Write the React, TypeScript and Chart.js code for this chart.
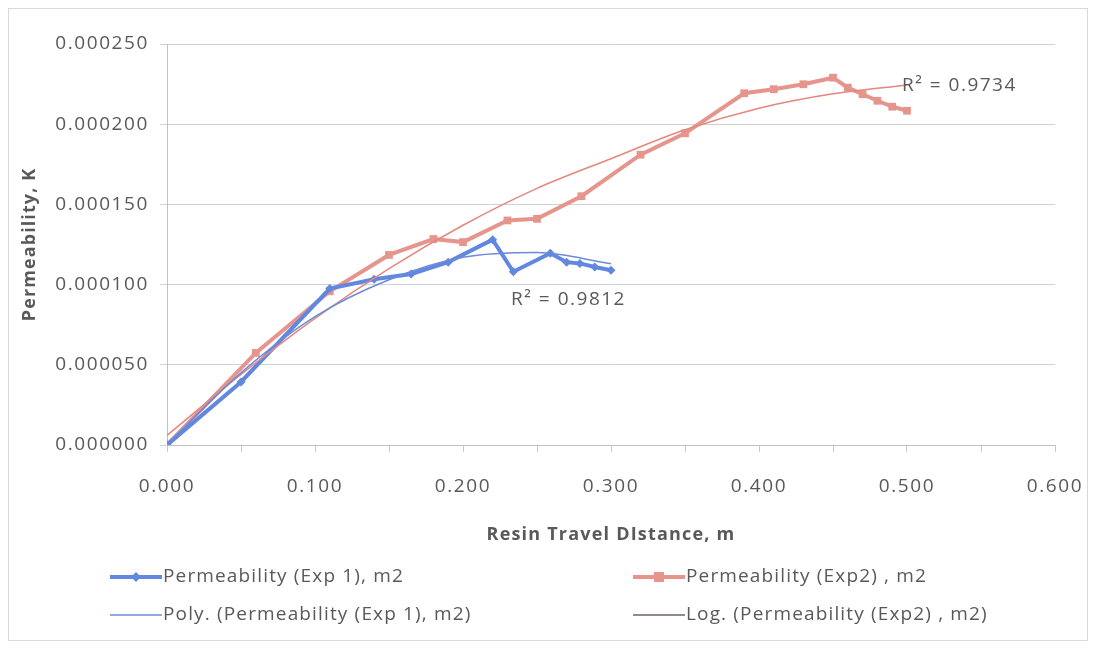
import React, { useEffect, useRef } from 'react';
import { Chart, registerables } from 'chart.js';

Chart.register(...registerables);

// ---- Data ----
const exp1X = [0, 0.05, 0.11, 0.14, 0.165, 0.19, 0.22, 0.234, 0.259, 0.27, 0.279, 0.289, 0.3];
const exp1Y = [0, 0.0000393, 0.0000975, 0.0001033, 0.0001066, 0.000114, 0.000128, 0.000108, 0.0001195, 0.000114, 0.0001132, 0.000111, 0.000109];

const exp2X = [0, 0.06, 0.11, 0.15, 0.18, 0.2, 0.23, 0.25, 0.28, 0.32, 0.35, 0.39, 0.41, 0.43, 0.45, 0.46, 0.47, 0.48, 0.49, 0.5];
const exp2Y = [0, 0.0000574, 0.0000958, 0.0001185, 0.0001284, 0.0001265, 0.00014, 0.000141, 0.0001551, 0.000181, 0.0001943, 0.0002193, 0.0002218, 0.0002249, 0.000229, 0.0002228, 0.0002187, 0.0002146, 0.0002109, 0.0002084];

// trendlines
const polyX = [0, 0.05, 0.1, 0.15, 0.2, 0.25, 0.3];
const polyY = [0.0000005, 0.000045, 0.00008, 0.000103, 0.000117, 0.00012, 0.000113];

const logX = [0, 0.05, 0.1, 0.15, 0.2, 0.25, 0.3, 0.35, 0.4, 0.45, 0.5];
const logY = [0.000006, 0.000044, 0.000079, 0.00011, 0.000137, 0.00016, 0.0001785, 0.0001965, 0.00021, 0.000219, 0.0002245];

const xTickLabels = ['0.000', '0.100', '0.200', '0.300', '0.400', '0.500', '0.600'];
const yTickLabels = ['0.000000', '0.000050', '0.000100', '0.000150', '0.000200', '0.000250'];

const seriesNames = [
  'Permeability (Exp 1), m2',
  'Permeability (Exp2) , m2',
  'Poly. (Permeability (Exp 1), m2)',
  'Log. (Permeability (Exp2) , m2)',
];
const r2Texts = ['R\u00B2 = 0.9812', 'R\u00B2 = 0.9734'];
const xTitle = 'Resin Travel DIstance, m';
const yTitle = 'Permeability, K';

// ---- Styles ----
const FONT = '"Open Sans", "Liberation Sans", sans-serif';
const TEXT = '#595959';
const BLUE = '#6187e0';
const RED = '#e6958d';
const BLUE_TREND = '#6b8bd8';
const RED_TREND = '#e4877f';
const LOG_LEGEND = '#6e6262';
const W = 1080;
const H = 633;
const TICK_SPACING = '1.6px';

const pts = (xs: number[], ys: number[]) => xs.map((x, i) => ({ x, y: ys[i] }));

const setSpacing = (ctx: any, v: string) => {
  if (ctx && 'letterSpacing' in ctx) ctx.letterSpacing = v;
};

const overlayPlugin = {
  id: 'overlay',
  beforeLayout(chart: any) {
    setSpacing(chart.ctx, TICK_SPACING);
  },
  beforeDraw(chart: any) {
    setSpacing(chart.ctx, TICK_SPACING);
  },
  afterDraw(chart: any) {
    const ctx = chart.ctx as CanvasRenderingContext2D;
    const xs = chart.scales.x;
    const ys = chart.scales.y;
    const area = chart.chartArea;
    ctx.save();
    // chart border
    ctx.strokeStyle = '#d9d9d9';
    ctx.lineWidth = 1;
    ctx.strokeRect(0.5, 0.5, W - 1, H - 1);

    ctx.fillStyle = TEXT;
    ctx.textBaseline = 'middle';

    // axis titles
    ctx.font = `bold 18px ${FONT}`;
    ctx.textAlign = 'center';
    setSpacing(ctx, '1.2px');
    ctx.fillText(xTitle, (area.left + area.right) / 2, 527);
    ctx.save();
    ctx.translate(22, (area.top + area.bottom) / 2);
    ctx.rotate(-Math.PI / 2);
    setSpacing(ctx, '1.1px');
    ctx.fillText(yTitle, 0, 0);
    ctx.restore();

    // R² labels
    ctx.font = `19px ${FONT}`;
    ctx.textAlign = 'left';
    setSpacing(ctx, '1.5px');
    ctx.fillText(r2Texts[0], xs.getPixelForValue(0.2325), ys.getPixelForValue(0.0000904));
    ctx.fillText(r2Texts[1], xs.getPixelForValue(0.4966), ys.getPixelForValue(0.0002238));

    // legend
    setSpacing(ctx, '1.15px');
    const rows = [569, 607];
    const cols = [102, 625];
    const lineLen = 52;
    const items = [
      { c: 0, r: 0, color: BLUE, w: 4, marker: 'diamond' },
      { c: 1, r: 0, color: RED, w: 4, marker: 'square' },
      { c: 0, r: 1, color: BLUE_TREND, w: 1.5, marker: '' },
      { c: 1, r: 1, color: LOG_LEGEND, w: 1.5, marker: '' },
    ];
    items.forEach((it, i) => {
      const x0 = cols[it.c];
      const y = rows[it.r];
      ctx.strokeStyle = it.color;
      ctx.lineWidth = it.w;
      ctx.beginPath();
      ctx.moveTo(x0, y);
      ctx.lineTo(x0 + lineLen, y);
      ctx.stroke();
      ctx.fillStyle = it.color;
      const mx = x0 + lineLen / 2;
      if (it.marker === 'diamond') {
        ctx.beginPath();
        ctx.moveTo(mx, y - 5);
        ctx.lineTo(mx + 5, y);
        ctx.lineTo(mx, y + 5);
        ctx.lineTo(mx - 5, y);
        ctx.closePath();
        ctx.fill();
      } else if (it.marker === 'square') {
        ctx.fillRect(mx - 5, y - 5, 10, 10);
      }
      ctx.fillStyle = TEXT;
      ctx.fillText(seriesNames[i], x0 + lineLen + 1, y);
    });
    ctx.restore();
    setSpacing(ctx, TICK_SPACING);
  },
};

export default function App() {
  const ref = useRef<HTMLCanvasElement | null>(null);

  useEffect(() => {
    if (!ref.current) return;
    const chart = new Chart(ref.current, {
      type: 'scatter',
      data: {
        datasets: [
          {
            label: seriesNames[2],
            data: pts(polyX, polyY),
            showLine: true,
            borderColor: BLUE_TREND,
            borderWidth: 1.5,
            pointRadius: 0,
            cubicInterpolationMode: 'monotone',
            order: 0,
          },
          {
            label: seriesNames[3],
            data: pts(logX, logY),
            showLine: true,
            borderColor: RED_TREND,
            borderWidth: 1.5,
            pointRadius: 0,
            cubicInterpolationMode: 'monotone',
            order: 0,
          },
          {
            label: seriesNames[0],
            data: pts(exp1X, exp1Y),
            showLine: true,
            borderColor: BLUE,
            backgroundColor: BLUE,
            borderWidth: 4,
            pointStyle: 'rectRot',
            pointRadius: 4.5,
            pointBorderWidth: 0,
            order: 1,
          },
          {
            label: seriesNames[1],
            data: pts(exp2X, exp2Y),
            showLine: true,
            borderColor: RED,
            backgroundColor: RED,
            borderWidth: 4,
            pointStyle: 'rect',
            pointRadius: 5.5,
            pointBorderWidth: 0,
            order: 2,
          },
        ],
      } as any,
      options: {
        responsive: false,
        animation: false,
        layout: { padding: { left: 0, right: 33, top: 36, bottom: 95.2 } },
        plugins: {
          legend: { display: false },
          tooltip: { enabled: false },
        },
        scales: {
          x: {
            type: 'linear',
            min: 0,
            max: 0.6,
            afterFit: (s: any) => {
              s.height = 100.8;
              s.paddingLeft = 0;
              s.paddingRight = 0;
            },
            ticks: {
              stepSize: 0.05,
              autoSkip: false,
              maxRotation: 0,
              padding: 23,
              color: TEXT,
              font: { family: FONT, size: 19 },
              callback: (_v: any, i: number) => (i % 2 === 0 ? xTickLabels[i / 2] : ''),
            },
            grid: { drawOnChartArea: false, drawTicks: true, tickLength: 7, color: '#c8c8c8' },
            border: { color: '#c0c0c0', width: 1 },
            title: { display: false },
          },
          y: {
            type: 'linear',
            min: 0,
            max: 0.00025,
            afterFit: (s: any) => {
              s.width = 159;
            },
            ticks: {
              stepSize: 0.00005,
              padding: 11,
              color: TEXT,
              font: { family: FONT, size: 19 },
              callback: (_v: any, i: number) => yTickLabels[i],
            },
            grid: { color: '#cdd2dc', tickLength: 7, lineWidth: 1 },
            border: { color: '#c0c0c0', width: 1 },
            title: { display: false },
          },
        },
      } as any,
      plugins: [overlayPlugin],
    });
    return () => chart.destroy();
  }, []);

  return (
    <div style={{ width: W, height: H, background: '#ffffff' }}>
      <canvas ref={ref} width={W} height={H} style={{ display: 'block' }} />
    </div>
  );
}
